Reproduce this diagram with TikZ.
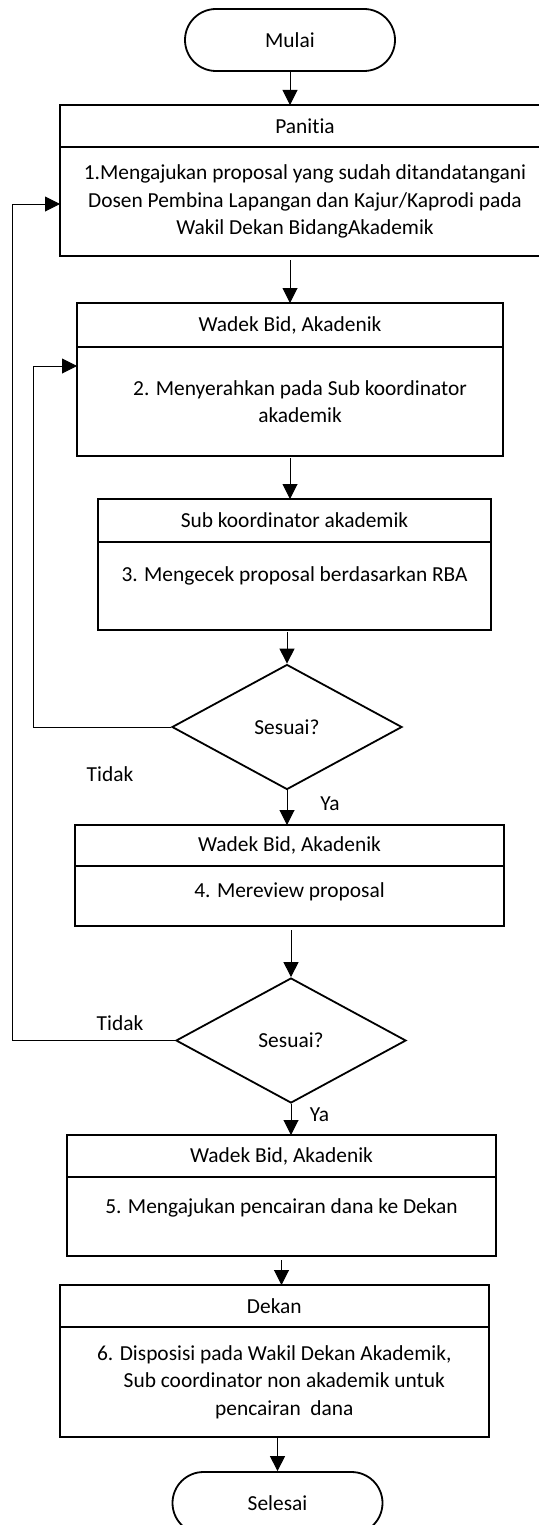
\documentclass[tikz,border=0pt]{standalone}
\usepackage{fontspec}
\setmainfont{Carlito}[Ligatures=NoCommon]
\usetikzlibrary{positioning,shapes.geometric,arrows.meta}

\tikzset{
  terminal/.style={draw, rectangle, rounded corners=15.5pt, line width=0.9pt, minimum width=105pt, minimum height=31pt},
  head/.style={draw, rectangle, line width=1.2pt, outer sep=0pt, minimum height=21pt},
  body/.style={draw, rectangle, line width=1.2pt, outer sep=0pt, align=center},
  decision/.style={draw, diamond, line width=0.9pt, inner sep=0pt, minimum width=115pt, minimum height=62.5pt},
  arr/.style={-{Triangle[width=7.5pt,length=7.5pt]}, line width=0.5pt},
}

\begin{document}
\begin{tikzpicture}[x=0.5pt, y=-0.5pt, font=\fontsize{10.7pt}{13.8pt}\selectfont]
  \useasboundingbox (0,0) rectangle (539,1525);

  \node[terminal] (mulai) at (290,40) {Mulai};

  \node[head, minimum width=245pt] (panh) at (305,126) {Panitia};
  \node[body, minimum width=245pt, minimum height=54.5pt, below=0pt of panh] (panb)
    {1.Mengajukan proposal yang sudah ditandatangani\\Dosen Pembina Lapangan dan Kajur/Kaprodi pada\\Wakil Dekan BidangAkademik};

  \node[head, minimum width=213pt, minimum height=22pt] (w2h) at (290,325) {Wadek Bid, Akadenik};
  \node[body, minimum width=213pt, minimum height=54.5pt, below=0pt of w2h] (w2b)
    {\hspace*{10pt}2. Menyerahkan pada Sub koordinator\\\hspace*{10pt}akademik};

  \node[head, minimum width=196.5pt, minimum height=21.5pt] (sbh) at (294.5,520.5) {Sub koordinator akademik};
  \node[body, minimum width=196.5pt, minimum height=44pt, below=0pt of sbh] (sbb)
    {3. Mengecek proposal berdasarkan RBA\\[-1.5pt]~};

  \node[decision] (d1) at (287,727) {Sesuai?};

  \node[head, minimum width=214.5pt, minimum height=20.5pt] (w4h) at (289.5,845.5) {Wadek Bid, Akadenik};
  \node[body, minimum width=214.5pt, minimum height=30pt, below=0pt of w4h] (w4b)
    {4. Mereview proposal\\[-7.5pt]~};

  \node[decision] (d2) at (291,1040.5) {Sesuai?};

  \node[head, minimum width=214.5pt] (w5h) at (281.5,1156) {Wadek Bid, Akadenik};
  \node[body, minimum width=214.5pt, minimum height=39.5pt, below=0pt of w5h] (w5b)
    {5. Mengajukan pencairan dana ke Dekan\\[-3.5pt]~};

  \node[head, minimum width=214.5pt] (dkh) at (274.3,1306) {Dekan};
  \node[body, minimum width=214.5pt, minimum height=55pt, below=0pt of dkh] (dkb)
    {6. Disposisi pada Wakil Dekan Akademik,\\\hspace*{10pt}Sub coordinator non akademik untuk\\\hspace*{10pt}pencairan\ \ dana};

  \node[terminal] (selesai) at (277.5,1503) {Selesai};

  % labels
  \node (tidak1) at (110,774) {Tidak};
  \node (ya1) at (330,804) {Ya};
  \node (tidak2) at (120,1023) {Tidak};
  \node (ya2) at (319.6,1115) {Ya};

  % main flow
  \draw[arr] (mulai.south) -- (mulai.south |- panh.north);
  \draw[arr, shorten <=2pt] (w2h.north |- panb.south) -- (w2h.north);
  \draw[arr, shorten <=1pt] (w2b.south) -- (w2b.south |- sbh.north);
  \draw[arr, shorten <=1pt] (d1.north |- sbb.south) -- (d1.north);
  \draw[arr] (d1.south) -- (d1.south |- w4h.north);
  \draw[arr, shorten <=2pt] (d2.north |- w4b.south) -- (d2.north);
  \draw[arr] (d2.south) -- (d2.south |- w5h.north);
  \draw[arr, shorten <=2pt] (w5b.south) -- (w5b.south |- dkh.north);
  \draw[arr] (selesai.north |- dkb.south) -- (selesai.north);

  % loops back
  \coordinate (fb1) at (12.4,204);
  \coordinate (fb2) at (33,366);
  \draw[arr] (d2.west) -| (fb1) -- (fb1 -| panb.west);
  \draw[arr] (d1.west) -| (fb2) -- (fb2 -| w2b.west);
\end{tikzpicture}
\end{document}
